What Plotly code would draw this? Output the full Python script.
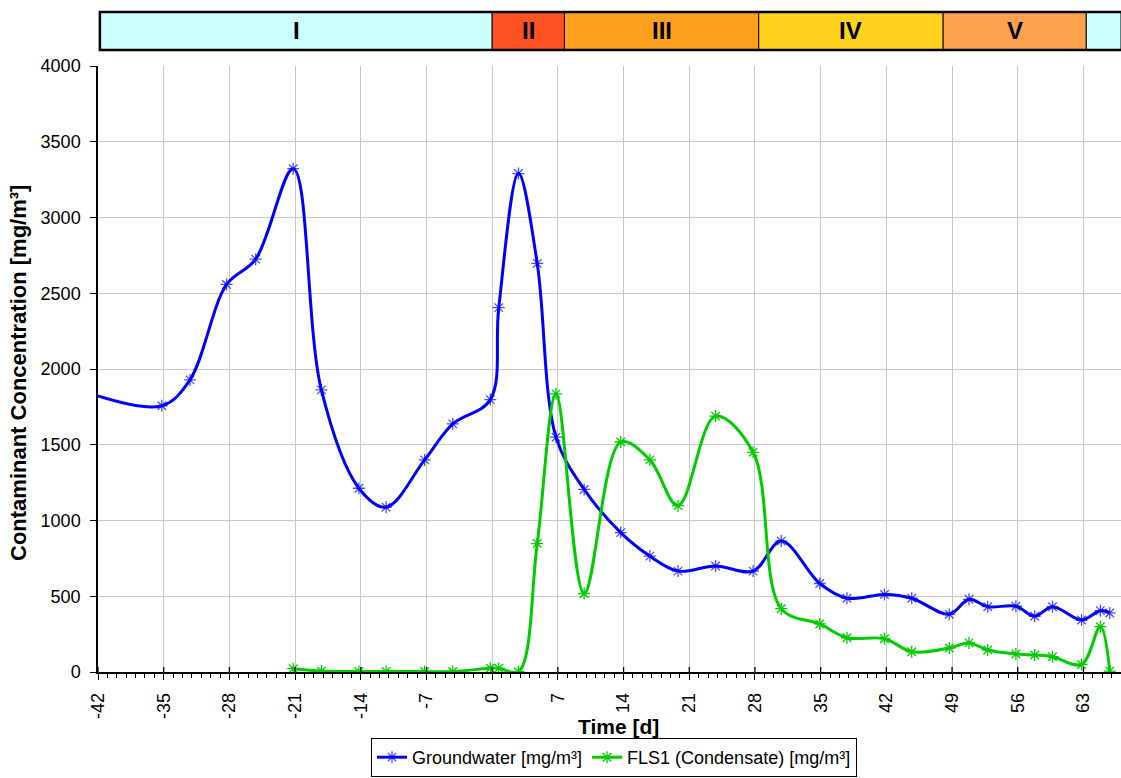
import plotly.graph_objects as go

# ---- data ----
gw_days = [-42, -35.2, -32.2, -28.3, -25.2, -21.2, -18.2, -14.2, -11.3, -7.2, -4.2, -0.2, 0.7, 2.8, 4.8,
           6.8, 9.8, 13.7, 16.8, 19.8, 23.8, 27.8, 30.8, 34.9, 37.8, 41.8, 44.7, 48.7, 50.8, 52.8,
           55.8, 57.8, 59.7, 62.8, 64.8, 65.8]
gw_vals = [1822, 1757, 1928, 2558, 2725, 3322, 1862, 1213, 1088, 1400, 1638, 1798, 2405, 3290, 2697,
           1550, 1205, 920, 765, 666, 700, 666, 864, 584, 487, 512, 487, 381, 480, 431,
           434, 368, 431, 343, 405, 390]
gw_marker = [0] + [10] * (len(gw_days) - 1)

fl_days = [-21.2, -18.2, -14.2, -11.3, -7.2, -4.2, -0.2, 0.7, 2.8, 4.8, 6.8, 9.8, 13.7, 16.8, 19.8,
           23.8, 27.8, 30.8, 34.9, 37.8, 41.8, 44.7, 48.7, 50.8, 52.8, 55.8, 57.8, 59.7, 62.8,
           64.8, 65.8]
fl_vals = [22, 6, 3, 3, 3, 3, 25, 25, 2, 848, 1836, 518, 1518, 1400, 1098,
           1689, 1450, 418, 317, 226, 220, 134, 158, 192, 145, 119, 112, 101, 50,
           299, 6]

phase_names = ["I", "II", "III", "IV", "V", ""]
phase_edges = [-41.8, 0.0, 7.7, 28.4, 48.05, 63.3, 67.0]
phase_colors = ["#CCFFFF", "#FF5122", "#FFA01E", "#FFD21E", "#FFA24E", "#CCFFFF"]

x_ticks = list(range(-42, 64, 7))
y_ticks = list(range(0, 4001, 500))
x_range = [-42, 67.0]

FONT = "Arial, 'Liberation Sans', sans-serif"

fig = go.Figure()
fig.add_trace(go.Scatter(
    x=gw_days, y=gw_vals, name="Groundwater [mg/m³]", mode="lines+markers",
    line=dict(color="#0000FF", width=3, shape="spline", smoothing=1.0),
    marker=dict(symbol="asterisk-open", size=gw_marker, color="#0000FF",
                line=dict(color="#0000FF", width=1.3)),
))
fig.add_trace(go.Scatter(
    x=fl_days, y=fl_vals, name="FLS1 (Condensate) [mg/m³]", mode="lines+markers",
    line=dict(color="#00CC00", width=3, shape="spline", smoothing=1.0),
    marker=dict(symbol="asterisk-open", size=10, color="#00CC00",
                line=dict(color="#00CC00", width=1.3)),
))

def to_paper(d):
    return (d - x_range[0]) / (x_range[1] - x_range[0])

W, H = 1121, 778
plot_left, plot_top, plot_bot = 98, 66, 672
pw = W - plot_left
ph = plot_bot - plot_top

def px_x(px):
    return (px - plot_left) / pw

def px_y(py):
    return (plot_bot - py) / ph

# phase band above plot
band_y0 = px_y(50)
band_y1 = px_y(12)
shapes = []
annotations = []
for i, name in enumerate(phase_names):
    x0 = to_paper(phase_edges[i])
    x1 = to_paper(phase_edges[i + 1])
    shapes.append(dict(type="rect", xref="paper", yref="paper", x0=x0, x1=x1,
                       y0=band_y0, y1=band_y1, fillcolor=phase_colors[i],
                       line=dict(color="black", width=1), layer="above"))
    if name:
        annotations.append(dict(xref="paper", yref="paper", x=(x0 + x1) / 2,
                                y=(band_y0 + band_y1) / 2, xanchor="center", yanchor="middle",
                                text="<b>%s</b>" % name,
                                showarrow=False, font=dict(family=FONT, size=24, color="black")))
shapes.append(dict(type="rect", xref="paper", yref="paper", x0=to_paper(phase_edges[0]),
                   x1=to_paper(phase_edges[-1]) + 0.01, y0=band_y0, y1=band_y1,
                   line=dict(color="black", width=2.5), layer="above"))

# major x ticks crossing slightly into the plot (as in the reference)
for t in x_ticks:
    shapes.append(dict(type="line", xref="paper", yref="paper", x0=to_paper(t), x1=to_paper(t),
                       y0=0, y1=px_y(667), line=dict(color="black", width=1.3), layer="above"))

# axis titles as annotations (placed like the reference)
annotations.append(dict(xref="paper", yref="paper", x=px_x(618), y=px_y(726),
                        xanchor="center", yanchor="middle", showarrow=False,
                        text="<b>Time [d]</b>", font=dict(family=FONT, size=21, color="black")))
annotations.append(dict(xref="paper", yref="paper", x=px_x(18), y=px_y(373),
                        xanchor="center", yanchor="middle", showarrow=False, textangle=-90,
                        text="<b>Contaminant Concentration [mg/m³]</b>",
                        font=dict(family=FONT, size=22, color="black")))

fig.update_layout(
    width=W, height=H,
    margin=dict(l=plot_left, r=0, t=plot_top, b=H - plot_bot, autoexpand=False),
    plot_bgcolor="white", paper_bgcolor="white",
    font=dict(family=FONT, size=16, color="black"),
    shapes=shapes, annotations=annotations,
    showlegend=True,
    legend=dict(orientation="h", x=px_x(614), xanchor="center", y=px_y(777), yanchor="bottom",
                bordercolor="black", borderwidth=1, font=dict(family=FONT, size=18),
                itemwidth=30, tracegroupgap=0),
    xaxis=dict(range=x_range, tickvals=x_ticks, ticktext=[str(v) for v in x_ticks],
               tickangle=-90, showgrid=True, gridcolor="#C8C8C8", gridwidth=1,
               showline=True, linecolor="black", linewidth=1.5, zeroline=False,
               ticks="outside", ticklen=6, tickcolor="black", automargin=False,
               ticklabelstandoff=6,
               minor=dict(dtick=1, tick0=0, ticks="outside", ticklen=4, tickcolor="black",
                          showgrid=False),
               tickfont=dict(family=FONT, size=18)),
    yaxis=dict(range=[0, 4000], tickvals=y_ticks, showgrid=True, gridcolor="#C8C8C8",
               gridwidth=1, showline=True, linecolor="black", linewidth=1.5, zeroline=False,
               ticks="outside", ticklen=6, tickcolor="black", automargin=False,
               ticklabelstandoff=6,
               tickfont=dict(family=FONT, size=18)),
)

fig.write_html("out.html")
